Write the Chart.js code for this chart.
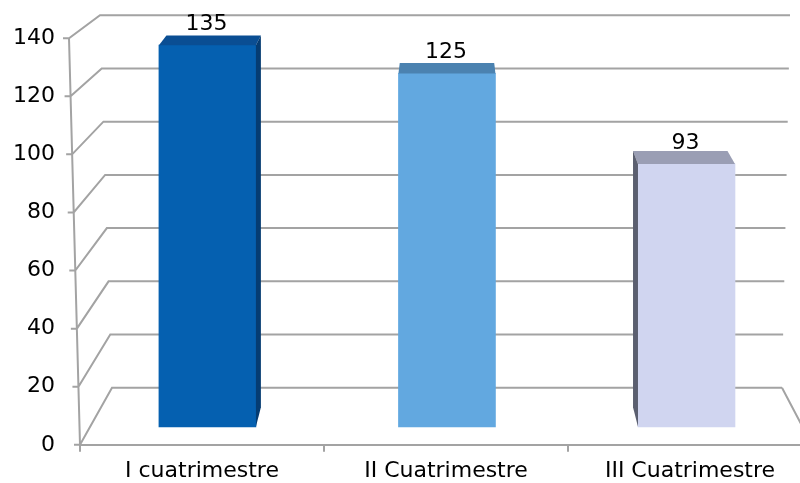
<!DOCTYPE html>
<html lang="es">
<head>
    <meta charset="UTF-8">
    <title>Cuatrimestres</title>
    <script src="https://cdn.jsdelivr.net/npm/chart.js@4.4.2/dist/chart.umd.min.js"></script>
    <style>
        html, body { margin: 0; padding: 0; overflow: hidden; background: #fff; }
        #wrap { width: 830px; height: 483px; }
    </style>
</head>
<body>
    <div id="wrap">
        <canvas id="cuatchart" width="830" height="483"></canvas>
    </div>

    <script>
        // data
        const categories = ['I cuatrimestre', 'II Cuatrimestre', 'III Cuatrimestre'];
        const values = [135, 125, 93];
        const y_min = 0;
        const y_max = 140;
        const y_step = 20;

        // styles
        const frontColors = ['#0560B0', '#62A8E0', '#D0D5F0'];
        const topColors = ['#0A4E93', '#4B82B0', '#9A9EB4'];
        const sideColors = ['#053C72', '#3E74A3', '#5B5F70'];
        const lineColor = '#A3A3A3';
        const font = { family: "Verdana, 'DejaVu Sans', sans-serif", size: 22 };

        // fake 3d: vanishing point + depth of the bars
        const VP_X = 447, VP_Y = -330, DEPTH = 0.026;
        // bars sit a bit behind the front plane: 18px higher, slightly smaller scale
        const barK = (407 / (y_max - y_min)) * 0.9735;

        const walls = {
            id: 'walls',
            beforeDatasetsDraw(chart) {
                const { ctx, chartArea: a, scales: { y } } = chart;
                const h = a.bottom - a.top;
                ctx.save();
                ctx.strokeStyle = lineColor;
                ctx.lineWidth = 2;
                ctx.beginPath();
                for (let v = y_min; v <= y_max; v += y_step) {
                    const t = (v - y_min) / (y_max - y_min);
                    const yf = y.getPixelForValue(v);
                    const xf = a.left - 11 * t;
                    const yb = (a.bottom - 57) - (h - 34) * t;
                    const xb = a.left + 32 - 12 * t;
                    const xr = a.right - 30 + 8 * t;
                    ctx.moveTo(xf - 6, yf);
                    ctx.lineTo(xf, yf);
                    ctx.lineTo(xb, yb);
                    ctx.lineTo(xr, yb);
                }
                // slanted front axis
                ctx.moveTo(a.left, a.bottom);
                ctx.lineTo(a.left - 11, a.top);
                // right edge of the floor
                ctx.moveTo(a.right - 30, a.bottom - 57);
                ctx.lineTo(a.right, a.bottom);
                ctx.stroke();
                ctx.restore();
            }
        };

        const bars3d = {
            id: 'bars3d',
            afterDatasetsDraw(chart) {
                const ctx = chart.ctx;
                const meta = chart.getDatasetMeta(0);
                const back = (px, py) => [px + (VP_X - px) * DEPTH, py + (VP_Y - py) * DEPTH];
                const poly = (pts, color) => {
                    ctx.beginPath();
                    ctx.moveTo(pts[0][0], pts[0][1]);
                    for (let k = 1; k < pts.length; k++) ctx.lineTo(pts[k][0], pts[k][1]);
                    ctx.closePath();
                    ctx.fillStyle = color;
                    ctx.fill();
                };
                ctx.save();
                meta.data.forEach((el, i) => {
                    const { x, y, base, width } = el.getProps(['x', 'y', 'base', 'width'], true);
                    const l = x - width / 2, r = x + width / 2;
                    poly([[l, y], [r, y], back(r, y), back(l, y)], topColors[i]);
                    if (r < VP_X) poly([[r, y], back(r, y), back(r, base), [r, base]], sideColors[i]);
                    if (l > VP_X) poly([[l, y], back(l, y), back(l, base), [l, base]], sideColors[i]);

                    ctx.fillStyle = '#000';
                    ctx.font = font.size + 'px ' + font.family;
                    ctx.textAlign = 'center';
                    ctx.textBaseline = 'alphabetic';
                    ctx.fillText(values[i], x - 1, y - 15);
                });
                ctx.restore();
            }
        };

        const ctx = document.getElementById('cuatchart');

        new Chart(ctx, {
            type: 'bar',
            data: {
                labels: categories,
                datasets: [{
                    data: values.map((v, i) => ({ x: i, y: v })),
                    xAxisID: 'xb',
                    yAxisID: 'yb',
                    backgroundColor: frontColors,
                    borderWidth: 0,
                    barThickness: 97
                }]
            },
            options: {
                responsive: false,
                animation: false,
                devicePixelRatio: 1,
                layout: { padding: { top: 38, right: 18, left: 0, bottom: 0 } },
                plugins: { legend: { display: false }, tooltip: { enabled: false } },
                scales: {
                    x: {
                        type: 'category',
                        position: 'bottom',
                        offset: true,
                        grid: {
                            display: true,
                            drawOnChartArea: false,
                            drawTicks: true,
                            tickLength: 7,
                            offset: true,
                            color: lineColor,
                            lineWidth: 2
                        },
                        border: { display: true, color: lineColor, width: 2 },
                        ticks: { color: '#000', font: font, padding: 6 },
                        afterFit(s) { s.height = 38; }
                    },
                    y: {
                        type: 'linear',
                        position: 'left',
                        min: y_min,
                        max: y_max,
                        grid: { display: false, drawTicks: false },
                        border: { display: false },
                        ticks: { stepSize: y_step, color: '#000', font: font, padding: 25 },
                        afterFit(s) { s.width = 80; }
                    },
                    // hidden scales for the bars (their plane is a bit deeper than the front)
                    xb: { type: 'linear', display: false, offset: false, min: -0.532, max: 2.524 },
                    yb: { type: 'linear', display: false, min: -18 / barK, max: (407 - 18) / barK }
                }
            },
            plugins: [walls, bars3d]
        });
    </script>
</body>
</html>
